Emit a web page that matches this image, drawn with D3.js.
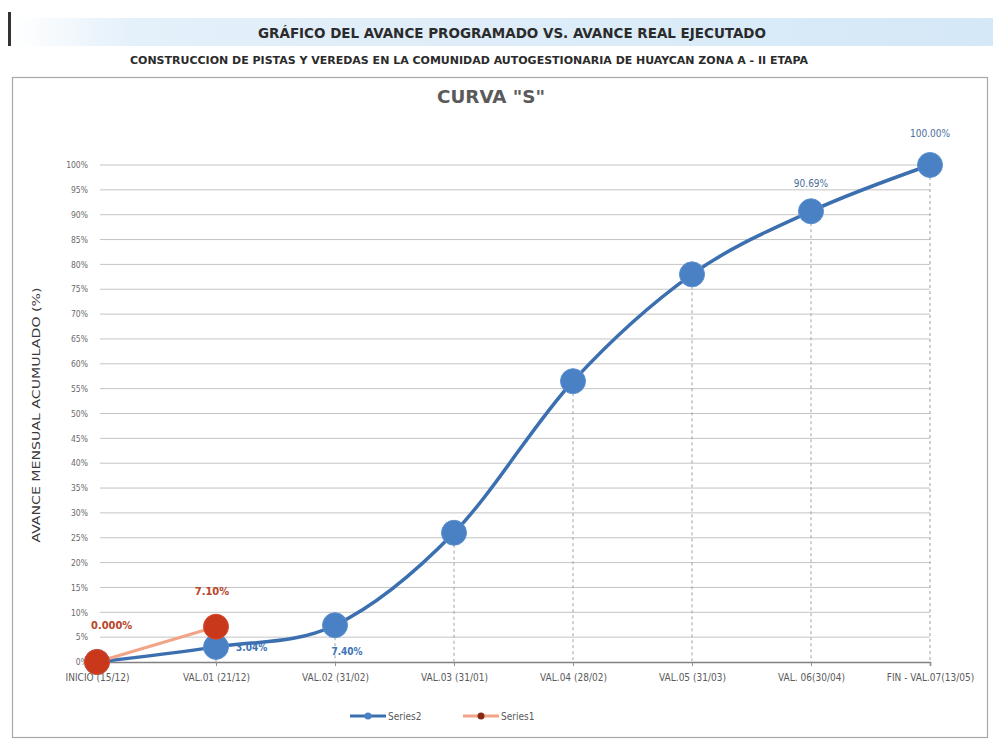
<!DOCTYPE html>
<html>
<head>
<meta charset="utf-8">
<script src="https://cdn.jsdelivr.net/npm/d3@7"></script>
<style>
  html, body { margin: 0; padding: 0; background: #ffffff; }
  svg text { font-family: "Liberation Sans Narrow", "DejaVu Sans Condensed", "Liberation Sans", sans-serif; }
</style>
</head>
<body>
<svg id="chart" width="993" height="751"></svg>
<script>
// Categories (valuation dates) and cumulative progress, in percent
const categories = ["INICIO (15/12)", "VAL.01 (21/12)", "VAL.02 (31/02)", "VAL.03 (31/01)",
                    "VAL.04 (28/02)", "VAL.05 (31/03)", "VAL. 06(30/04)", "FIN - VAL.07(13/05)"];
const programado = [0, 3.04, 7.40, 26.0, 56.5, 78.0, 90.69, 100];   // Series2
const ejecutado  = [0, 7.10];                                         // Series1
const yTicks = [0, 5, 10, 15, 20, 25, 30, 35, 40, 45, 50, 55, 60, 65, 70, 75, 80, 85, 90, 95, 100];

// Which points carry a value label and how they are written
const labelsProg = { 1: "3.04%", 2: "7.40%", 6: "90.69%", 7: "100.00%" };
const labelsEjec = { 0: "0.000%", 1: "7.10%" };

const svg = d3.select("#chart");

const blue = "#4a80c4";
const blueDark = "#3b6fb0";
const red = "#c9381a";
const salmon = "#f2a488";

// Page header: dark marker and light-blue banner
const grad = svg.append("defs").append("linearGradient")
  .attr("id", "band").attr("x1", "0").attr("x2", "1");
grad.append("stop").attr("offset", "0").attr("stop-color", "#ffffff");
grad.append("stop").attr("offset", "0.12").attr("stop-color", "#e4f0fa");
grad.append("stop").attr("offset", "1").attr("stop-color", "#d5e8f7");
svg.append("rect").attr("x", 14).attr("y", 18).attr("width", 979).attr("height", 28).attr("fill", "url(#band)");
svg.append("rect").attr("x", 8).attr("y", 12).attr("width", 3).attr("height", 34).attr("fill", "#333");

svg.append("text").attr("x", 512).attr("y", 38).attr("text-anchor", "middle")
  .attr("font-size", 14).attr("font-weight", "bold").attr("fill", "#2b2b2b")
  .attr("textLength", 508).attr("lengthAdjust", "spacingAndGlyphs")
  .text("GRÁFICO DEL AVANCE PROGRAMADO VS. AVANCE REAL EJECUTADO");

svg.append("text").attr("x", 469).attr("y", 64).attr("text-anchor", "middle")
  .attr("font-size", 10).attr("font-weight", "bold").attr("fill", "#2b2b2b")
  .attr("textLength", 678).attr("lengthAdjust", "spacingAndGlyphs")
  .text("CONSTRUCCION DE PISTAS Y  VEREDAS EN LA COMUNIDAD AUTOGESTIONARIA DE HUAYCAN ZONA  A - II ETAPA");

// Chart frame
svg.append("rect").attr("x", 12.5).attr("y", 77.5).attr("width", 975).attr("height", 660)
  .attr("fill", "#ffffff").attr("stroke", "#a8a8a8").attr("stroke-width", 1.2);

svg.append("text").attr("x", 491).attr("y", 103).attr("text-anchor", "middle")
  .attr("font-size", 17).attr("font-weight", "bold").attr("fill", "#5a5a5a")
  .attr("textLength", 108).attr("lengthAdjust", "spacingAndGlyphs")
  .text('CURVA "S"');

// Scales
const x = d3.scalePoint().domain(categories).range([97, 930]);
const y = d3.scaleLinear().domain([0, 100]).range([662, 165]);

// Horizontal gridlines
svg.append("g").selectAll("line").data(yTicks.filter(d => d > 0)).join("line")
  .attr("x1", 100).attr("x2", 930)
  .attr("y1", d => y(d)).attr("y2", d => y(d))
  .attr("stroke", "#c4c4c4").attr("stroke-width", 1);

// Y axis (labels only)
const yAxis = svg.append("g").attr("transform", "translate(92,0)")
  .call(d3.axisLeft(y).tickValues(yTicks).tickFormat(d => d + "%").tickSize(0).tickPadding(4));
yAxis.select(".domain").remove();
yAxis.selectAll("text").attr("font-size", 8.5).attr("fill", "#6a6a6a")
  .style("font-family", '"Liberation Sans Narrow", "DejaVu Sans Condensed", sans-serif');

// X axis
const xAxis = svg.append("g").attr("transform", `translate(0,${y(0)})`)
  .call(d3.axisBottom(x).tickSize(4).tickPadding(8));
xAxis.select(".domain").attr("stroke", "#808080").attr("stroke-width", 1.6);
xAxis.selectAll(".tick line").attr("stroke", "#909090");
xAxis.selectAll("text").attr("font-size", 10).attr("fill", "#5a5a5a")
  .style("font-family", '"Liberation Sans Narrow", "DejaVu Sans Condensed", sans-serif');

// Y axis title
svg.append("text")
  .attr("transform", `translate(40,${415}) rotate(-90)`)
  .attr("text-anchor", "middle").attr("font-size", 10.5).attr("fill", "#3a3a3a")
  .attr("textLength", 255).attr("lengthAdjust", "spacingAndGlyphs")
  .text("AVANCE MENSUAL ACUMULADO (%)");

// Drop lines from the programmed curve to the axis
svg.append("g").selectAll("line").data(programado).join("line")
  .attr("x1", (d, i) => x(categories[i])).attr("x2", (d, i) => x(categories[i]))
  .attr("y1", d => y(d)).attr("y2", y(0))
  .attr("stroke", "#a0a0a0").attr("stroke-width", 1).attr("stroke-dasharray", "3,3");

// Smoothed lines
const line = d3.line()
  .x((d, i) => x(categories[i]))
  .y(d => y(d))
  .curve(d3.curveCatmullRom.alpha(0));

svg.append("path").datum(programado).attr("d", line)
  .attr("fill", "none").attr("stroke", blueDark).attr("stroke-width", 3.5);

svg.append("path").datum(ejecutado).attr("d", line)
  .attr("fill", "none").attr("stroke", salmon).attr("stroke-width", 3);

// Markers
svg.append("g").selectAll("circle").data(programado).join("circle")
  .attr("cx", (d, i) => x(categories[i])).attr("cy", d => y(d)).attr("r", 12.5)
  .attr("fill", blue).attr("stroke", "#5b91d0").attr("stroke-width", 1);

svg.append("g").selectAll("circle").data(ejecutado).join("circle")
  .attr("cx", (d, i) => x(categories[i])).attr("cy", d => y(d)).attr("r", 12.5)
  .attr("fill", red).attr("stroke", "#d94a28").attr("stroke-width", 1);

// Value labels for the programmed curve
const progPos = { 1: [20, 4, "start"], 2: [12, 30, "middle"], 6: [0, -24, "middle"], 7: [0, -28, "middle"] };
svg.append("g").selectAll("text").data(Object.keys(labelsProg)).join("text")
  .attr("x", k => x(categories[k]) + progPos[k][0])
  .attr("y", k => y(programado[k]) + progPos[k][1])
  .attr("text-anchor", k => progPos[k][2])
  .attr("font-size", 10).attr("fill", k => (k >= 6 ? "#4a6f9a" : "#3d74b8"))
  .attr("font-weight", k => (k >= 6 ? "normal" : "bold"))
  .text(k => labelsProg[k]);

// Value labels for the executed curve
const ejecPos = { 0: [-6, -33, "start"], 1: [-4, -32, "middle"] };
svg.append("g").selectAll("text").data(Object.keys(labelsEjec)).join("text")
  .attr("x", k => x(categories[k]) + ejecPos[k][0])
  .attr("y", k => y(ejecutado[k]) + ejecPos[k][1])
  .attr("text-anchor", k => ejecPos[k][2])
  .attr("font-size", 11).attr("font-weight", "bold").attr("fill", "#b8452a")
  .text(k => labelsEjec[k]);

// Legend
const legend = [
  { name: "Series2", color: blueDark, marker: blue, x: 350 },
  { name: "Series1", color: salmon, marker: "#8a2a14", x: 463 }
];
const lg = svg.append("g").selectAll("g").data(legend).join("g")
  .attr("transform", d => `translate(${d.x},716)`);
lg.append("line").attr("x1", 0).attr("x2", 36).attr("stroke", d => d.color).attr("stroke-width", 3);
lg.append("circle").attr("cx", 18).attr("r", 3.5).attr("fill", d => d.marker);
lg.append("text").attr("x", 38).attr("y", 3.5).attr("font-size", 10).attr("fill", "#5a5a5a").text(d => d.name);
</script>
</body>
</html>
